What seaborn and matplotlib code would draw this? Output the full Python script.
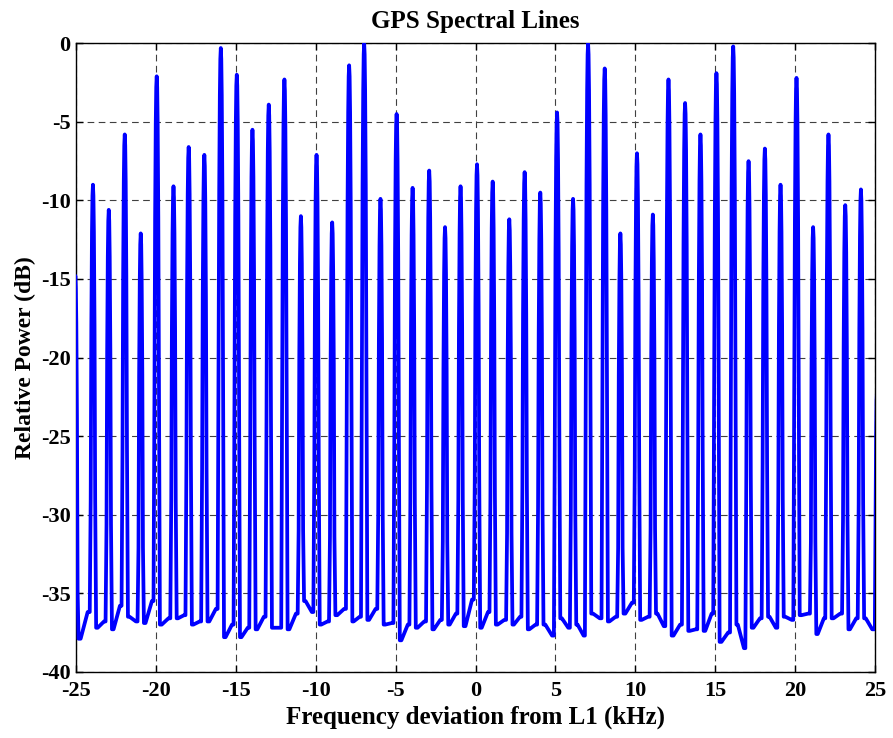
import numpy as np
import pandas as pd
import matplotlib
matplotlib.use("Agg")
import matplotlib.pyplot as plt
import seaborn as sns

# Spectral line positions (kHz) and their peak levels (dB)
peak_khz = [-25.04, -23.94, -22.95, -21.95, -20.95, -19.95, -18.90, -17.95, -16.97,
            -15.94, -14.94, -13.96, -12.94, -11.96, -10.93, -9.95, -8.97, -7.91,
            -6.97, -5.95, -4.94, -3.94, -2.90, -1.91, -0.94, 0.09, 1.07, 2.11,
            3.07, 4.05, 5.10, 6.10, 7.04, 8.08, 9.06, 10.10, 11.09, 12.07, 13.11,
            14.07, 15.07, 16.12, 17.08, 18.10, 19.08, 20.08, 21.12, 22.08, 23.13,
            24.11, 25.12]
peak_db = [-14.8, -9.0, -10.6, -5.8, -12.1, -2.1, -9.1, -6.6, -7.1,
           -0.3, -2.0, -5.5, -3.9, -2.3, -11.0, -7.1, -11.4, -1.4,
           0.0, -9.9, -4.5, -9.2, -8.1, -11.7, -9.1, -7.7, -8.8, -11.2,
           -8.2, -9.5, -4.4, -9.9, 0.0, -1.6, -12.1, -7.0, -10.9, -2.3, -3.8,
           -5.8, -1.9, -0.2, -7.5, -6.7, -9.0, -2.2, -11.7, -5.8, -10.3,
           -9.3, -22.0]

# Noise floor between consecutive lines: early part (a) and late part (b) of each gap
floor_a_db = [-37.9, -37.2, -37.3, -36.5, -36.9, -37.0, -36.6, -37.0, -36.8, -37.8,
              -37.8, -37.3, -37.2, -37.3, -35.5, -37.0,
              -36.4, -36.8, -36.7, -37.0, -38.0, -37.2, -37.3, -37.0, -37.1, -37.2,
              -37.0, -37.0, -37.3, -37.0, -36.6, -37.0, -36.3,
              -36.8, -36.3, -36.7, -36.3, -37.7, -37.4, -37.4, -38.1, -37.0, -37.2,
              -36.5, -36.5, -36.4, -37.6, -36.6, -37.3, -36.6]
floor_b_db = [-36.2, -36.8, -35.8, -36.8, -35.5, -36.6, -36.4, -36.8, -36.0, -37.0,
              -37.2, -36.5, -37.2, -36.3, -36.2, -36.8,
              -36.0, -36.5, -36.0, -36.9, -37.0, -36.8, -36.7, -36.3, -35.4, -36.2,
              -36.7, -36.5, -37.0, -37.7, -37.2, -37.7, -36.6,
              -36.5, -35.6, -36.5, -37.1, -37.0, -37.3, -36.3, -37.5, -38.5, -36.6,
              -37.2, -36.7, -36.3, -36.6, -36.3, -36.6, -37.3]

# shape of one line around its centre: offset (kHz) and level below the peak (dB)
shape_off = [-0.2, -0.14, -0.1, -0.06, -0.03, 0.0, 0.03, 0.06, 0.1, 0.14, 0.2]
shape_drop = [-40, -20, -9, -3, -0.7, 0, -0.7, -3, -9, -20, -40]

xs, ys = [], []
for i, (f, p) in enumerate(zip(peak_khz, peak_db)):
    left = floor_b_db[i - 1] if i > 0 else floor_a_db[0]
    right = floor_a_db[i] if i < len(floor_a_db) else floor_b_db[-1]
    for d, drop in zip(shape_off, shape_drop):
        base = left if d < 0 else right
        xs.append(f + d)
        ys.append(max(p + drop, base))
    if i < len(floor_a_db):
        gap = peak_khz[i + 1] - f
        xs += [f + 0.3 * gap, f + 0.7 * gap]
        ys += [floor_a_db[i], floor_b_db[i]]

df = pd.DataFrame({"freq": xs, "power": ys})

sns.set_style("ticks")
plt.rcParams["font.family"] = ["Liberation Serif", "DejaVu Serif"]
plt.rcParams["font.weight"] = "bold"
plt.rcParams["axes.unicode_minus"] = False
plt.rcParams["text.color"] = "black"
plt.rcParams["axes.labelcolor"] = "black"

fig = plt.figure(figsize=(8.93, 7.38), dpi=100)
ax = fig.add_axes([0.0851, 0.0898, 0.8949, 0.8515])

sns.lineplot(data=df, x="freq", y="power", sort=False, estimator=None,
             color="#0000ff", linewidth=2.7, ax=ax, zorder=3)
ax.lines[0].set_solid_joinstyle("round")

ax.set_xlim(-25, 25)
ax.set_ylim(-40, 0)
ax.set_xticks(np.arange(-25, 26, 5))
ax.set_yticks(np.arange(-40, 1, 5))
ax.set_axisbelow(True)
ax.grid(True, linestyle=(0, (6, 4)), color="#404040", linewidth=0.8)
ax.tick_params(direction="in", top=True, right=True, length=5, width=1,
               labelsize=16, colors="black")
ax.tick_params(axis="x", pad=7)
ax.tick_params(axis="y", pad=4)
for s in ax.spines.values():
    s.set_linewidth(1.0)
    s.set_color("black")
    s.set_zorder(2)

ax.set_title("GPS Spectral Lines", fontsize=18, fontweight="bold", pad=11, color="black")
ax.set_xlabel("Frequency deviation from L1 (kHz)", fontsize=18, fontweight="bold", labelpad=3)
ax.set_ylabel("Relative Power (dB)", fontsize=17, fontweight="bold", labelpad=3)

fig.savefig("out.png", dpi=100)
